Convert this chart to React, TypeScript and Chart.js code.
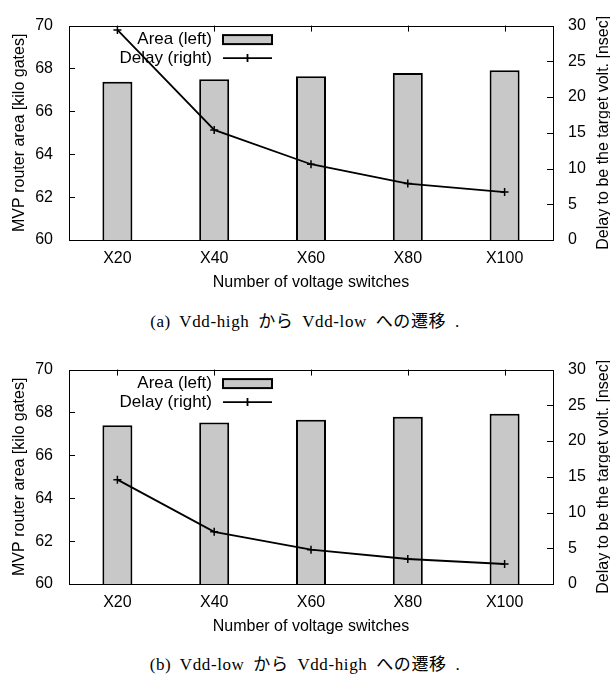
import React, { useEffect, useRef } from "react";
import { Chart, registerables } from "chart.js";

Chart.register(...registerables);

// ---- data ----
const categories = ["X20", "X40", "X60", "X80", "X100"];
const areaA = [67.38, 67.5, 67.64, 67.79, 67.92];
const delayA = [29.4, 15.4, 10.6, 7.9, 6.7];
const areaB = [67.4, 67.53, 67.66, 67.8, 67.94];
const delayB = [14.6, 7.3, 4.8, 3.5, 2.8];
const leftRange = [60, 70];
const leftStep = 2;
const rightRange = [0, 30];
const rightStep = 5;
const captionA = "(a) Vdd-high から Vdd-low への遷移 .";
const captionB = "(b) Vdd-low から Vdd-high への遷移 .";
const xTitle = "Number of voltage switches";
const yTitle = "MVP router area [kilo gates]";
const y2Title = "Delay to be the target volt. [nsec]";
const legendArea = "Area (left)";
const legendDelay = "Delay (right)";

const FONT = "'Liberation Sans', Arial, Helvetica, sans-serif";
const FS = 16;
const LFS = 17;
const BAR_FILL = "#c8c8c8";

const gnuPlugin = {
  id: "gnuframe",
  beforeDatasetsDraw(chart: any) {
    const { ctx, chartArea: a, scales } = chart;
    const L = 6;
    ctx.save();
    ctx.strokeStyle = "#000";
    ctx.lineWidth = 1;
    ctx.beginPath();
    scales.y.ticks.forEach((t: any) => {
      const py = Math.round(scales.y.getPixelForValue(t.value)) + 0.5;
      ctx.moveTo(a.left, py);
      ctx.lineTo(a.left + L, py);
    });
    scales.y2.ticks.forEach((t: any) => {
      const py = Math.round(scales.y2.getPixelForValue(t.value)) + 0.5;
      ctx.moveTo(a.right, py);
      ctx.lineTo(a.right - L, py);
    });
    categories.forEach((_, i) => {
      const px = Math.round(scales.x.getPixelForValue(i)) + 0.5;
      ctx.moveTo(px, a.top);
      ctx.lineTo(px, a.top + L);
      ctx.moveTo(px, a.bottom);
      ctx.lineTo(px, a.bottom - L);
    });
    ctx.stroke();
    ctx.restore();
  },
  afterDatasetsDraw(chart: any) {
    const { ctx, chartArea: a } = chart;
    ctx.save();
    // frame
    ctx.strokeStyle = "#000";
    ctx.lineWidth = 1;
    ctx.strokeRect(
      Math.round(a.left) + 0.5,
      Math.round(a.top) + 0.5,
      Math.round(a.right - a.left),
      Math.round(a.bottom - a.top)
    );
    // legend
    const textRight = a.left + 143;
    const sx0 = a.left + 154;
    const sx1 = a.left + 203;
    const r1 = a.top + 14;
    const r2 = a.top + 32.5;
    ctx.font = `${LFS}px ${FONT}`;
    ctx.fillStyle = "#000";
    ctx.textAlign = "right";
    ctx.textBaseline = "middle";
    ctx.fillText(legendArea, textRight, r1);
    ctx.fillText(legendDelay, textRight, r2);
    ctx.fillStyle = BAR_FILL;
    ctx.fillRect(sx0, r1 - 4.5, sx1 - sx0, 9);
    ctx.lineWidth = 2;
    ctx.strokeStyle = "#000";
    ctx.strokeRect(sx0, r1 - 4.5, sx1 - sx0, 9);
    ctx.lineWidth = 1.8;
    ctx.beginPath();
    ctx.moveTo(sx0, r2);
    ctx.lineTo(sx1, r2);
    const mx = (sx0 + sx1) / 2;
    ctx.moveTo(mx - 4, r2);
    ctx.lineTo(mx + 4, r2);
    ctx.moveTo(mx, r2 - 4);
    ctx.lineTo(mx, r2 + 4);
    ctx.stroke();
    ctx.restore();
  },
  afterDraw(chart: any) {
    const { ctx, chartArea: a } = chart;
    ctx.save();
    ctx.font = `${FS}px ${FONT}`;
    ctx.fillStyle = "#000";
    ctx.textAlign = "center";
    ctx.textBaseline = "middle";
    const cy = (a.top + a.bottom) / 2;
    ctx.fillText(xTitle, (a.left + a.right) / 2, a.bottom + 43);
    ctx.save();
    ctx.translate(20, cy);
    ctx.rotate(-Math.PI / 2);
    ctx.fillText(yTitle, 0, 0);
    ctx.restore();
    ctx.save();
    ctx.translate(a.right + 51, cy);
    ctx.rotate(-Math.PI / 2);
    ctx.fillText(y2Title, 0, 0);
    ctx.restore();
    ctx.restore();
  },
};

function Panel({ area, delay, top }: { area: number[]; delay: number[]; top: number }) {
  const ref = useRef<HTMLCanvasElement | null>(null);
  useEffect(() => {
    if (!ref.current) return;
    const tickFont = { family: FONT, size: FS };
    const chart = new Chart(ref.current, {
      type: "bar",
      data: {
        labels: categories,
        datasets: [
          {
            type: "line",
            label: legendDelay,
            data: delay,
            yAxisID: "y2",
            borderColor: "#000",
            backgroundColor: "#000",
            borderWidth: 1.8,
            pointStyle: "cross",
            pointRadius: 4,
            pointBorderWidth: 1.5,
            pointBorderColor: "#000",
            tension: 0,
            fill: false,
            order: 0,
          } as any,
          {
            type: "bar",
            label: legendArea,
            data: area,
            yAxisID: "y",
            backgroundColor: BAR_FILL,
            borderColor: "#000",
            borderWidth: 2,
            categoryPercentage: 1,
            barPercentage: 0.31,
            order: 1,
          } as any,
        ],
      },
      options: {
        responsive: false,
        animation: false,
        devicePixelRatio: 1,
        layout: { padding: { top: 24, left: 0, right: 0, bottom: 0 } },
        plugins: { legend: { display: false }, tooltip: { enabled: false } },
        scales: {
          x: {
            type: "category",
            offset: true,
            grid: { display: false, drawTicks: false },
            border: { display: false },
            ticks: { font: tickFont, color: "#000", padding: 9, maxRotation: 0 },
            afterFit: (s: any) => {
              s.height = 60;
            },
          },
          y: {
            position: "left",
            min: leftRange[0],
            max: leftRange[1],
            grid: { display: false, drawTicks: false },
            border: { display: false },
            ticks: { stepSize: leftStep, font: tickFont, color: "#000", padding: 16 },
            afterFit: (s: any) => {
              s.width = 69;
            },
          },
          y2: {
            position: "right",
            min: rightRange[0],
            max: rightRange[1],
            grid: { display: false, drawTicks: false },
            border: { display: false },
            ticks: { stepSize: rightStep, font: tickFont, color: "#000", padding: 15 },
            afterFit: (s: any) => {
              s.width = 57;
            },
          },
        },
      } as any,
      plugins: [gnuPlugin],
    });
    return () => chart.destroy();
  }, [area, delay]);
  return (
    <canvas
      ref={ref}
      width={610}
      height={300}
      style={{ position: "absolute", left: 0, top, width: 610, height: 300, display: "block" }}
    />
  );
}

const captionStyle: React.CSSProperties = {
  position: "absolute",
  left: 0,
  width: 610,
  textAlign: "center",
  fontFamily: "'Liberation Serif', 'Noto Sans CJK JP', serif",
  fontSize: 17,
  letterSpacing: "0.6px",
  wordSpacing: "4px",
  lineHeight: "20px",
  color: "#000",
  whiteSpace: "pre",
};

export default function App() {
  return (
    <div style={{ position: "absolute", left: 0, top: 0, width: 610, height: 680, background: "#fff", overflow: "hidden" }}>
      <Panel area={areaA} delay={delayA} top={0} />
      <div style={{ ...captionStyle, top: 312 }}>{captionA}</div>
      <Panel area={areaB} delay={delayB} top={344} />
      <div style={{ ...captionStyle, top: 655 }}>{captionB}</div>
    </div>
  );
}
